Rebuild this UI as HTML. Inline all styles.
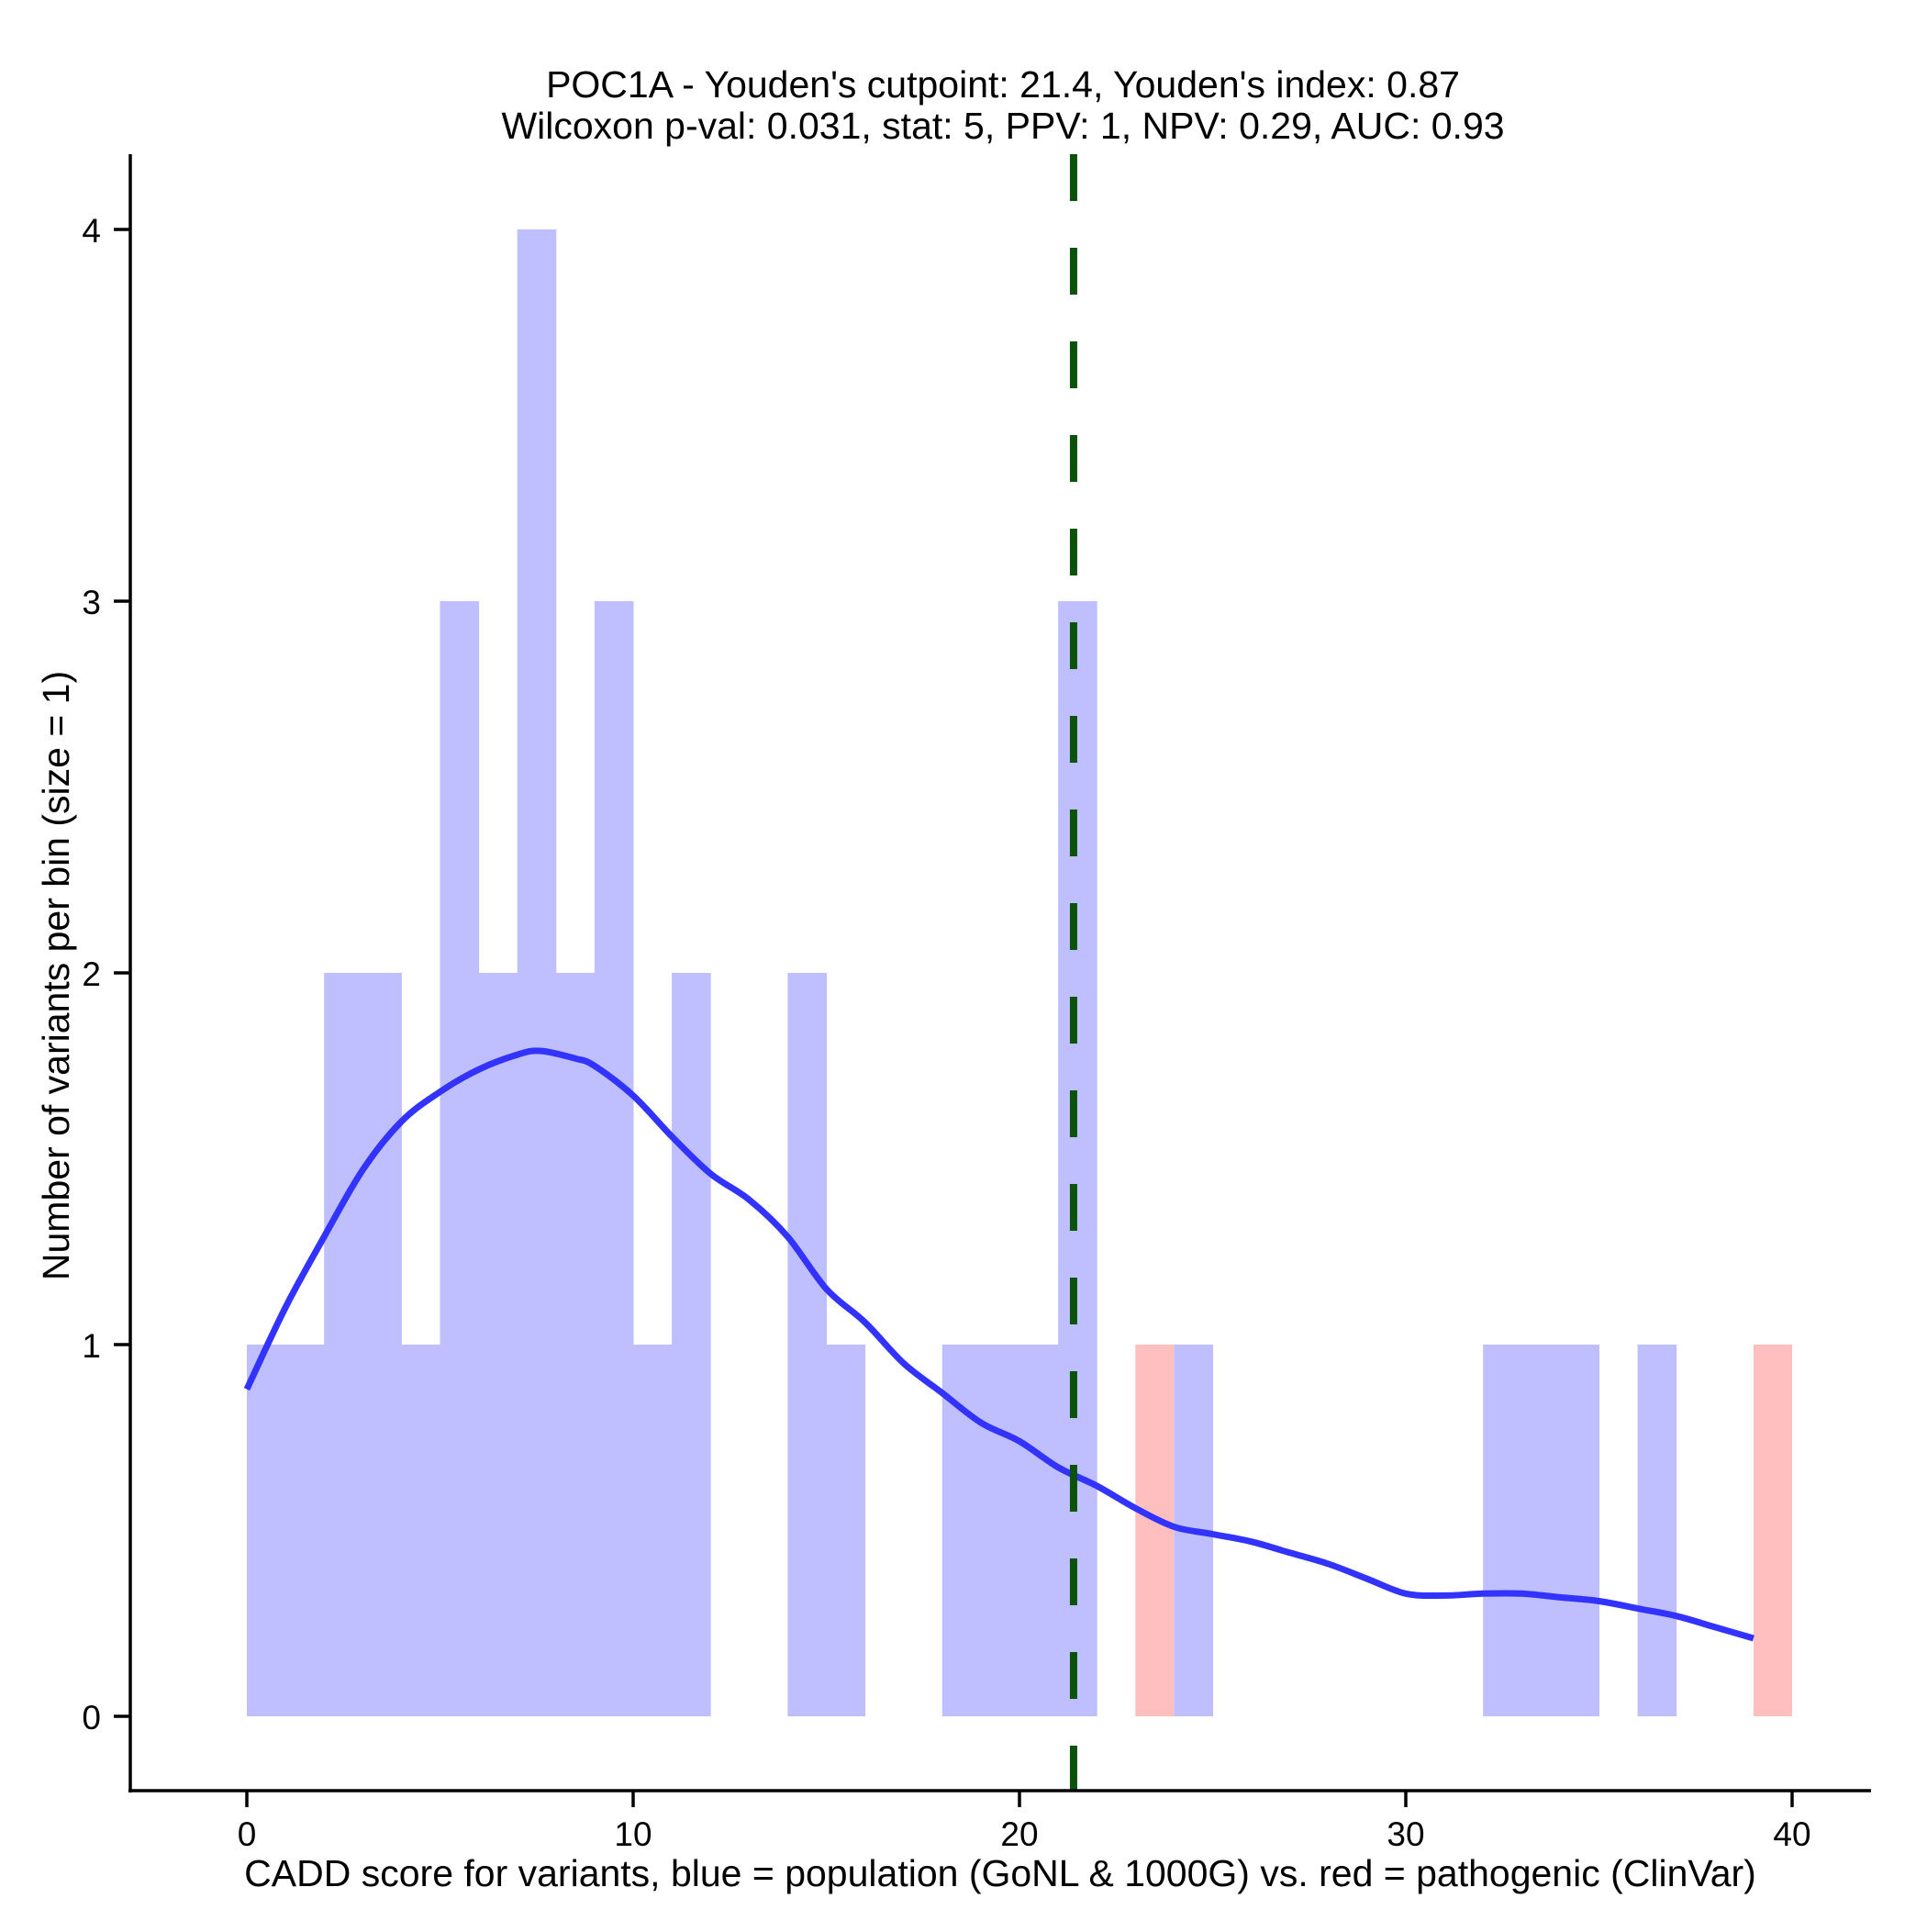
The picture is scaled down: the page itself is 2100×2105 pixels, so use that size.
<!DOCTYPE html>
<html><head><meta charset="utf-8"><style>
html,body{margin:0;padding:0;background:#fff;}
svg text{font-family:"Liberation Sans",Arial,sans-serif;fill:#000;}
</style></head><body>
<svg id="chart" width="2100" height="2100" viewBox="0 0 2100 2100" xmlns="http://www.w3.org/2000/svg">
<text x="1093" y="106" font-size="41" text-anchor="middle">POC1A - Youden's cutpoint: 21.4, Youden's index: 0.87</text>
<text x="1093" y="151" font-size="41" text-anchor="middle">Wilcoxon p-val: 0.031, stat: 5, PPV: 1, NPV: 0.29, AUC: 0.93</text>
<g id="bars"></g>
<g id="curve"></g>
<g id="axes"></g>
<text x="1090" y="2055" font-size="41" text-anchor="middle">CADD score for variants, blue = population (GoNL &amp; 1000G) vs. red = pathogenic (ClinVar)</text>
<text transform="translate(75,1063) rotate(-90)" font-size="41" text-anchor="middle">Number of variants per bin (size = 1)</text>
</svg>
<script>
const blueBinStarts = [0,1,2,3,4,5,6,7,8,9,10,11,14,15,18,19,20,21,24,32,33,34,36];
const blueCounts    = [1,1,2,2,1,3,2,4,2,3,1,2,2,1,1,1,1,3,1,1,1,1,1];
const redBinStarts  = [23,39];
const redCounts     = [1,1];
const curveX = [0,1,2,3,4,5,6,7,7.6,8.5,9,10,11,12,13,14,15,16,17,18,19,20,21,22,23,24,25,26,27,28,29,30,31,32,33,34,35,36,37,38,39];
const curveY = [0.88,1.1,1.29,1.47,1.60,1.68,1.74,1.78,1.79,1.77,1.75,1.67,1.56,1.46,1.39,1.29,1.15,1.06,0.95,0.87,0.79,0.74,0.67,0.62,0.56,0.51,0.49,0.47,0.44,0.41,0.37,0.33,0.325,0.33,0.33,0.32,0.31,0.29,0.27,0.24,0.21];
const cutpoint = 21.4;
const xTicks = [0,10,20,30,40];
const yTicks = [0,1,2,3,4];

const NS='http://www.w3.org/2000/svg';
const xs = v => 269 + v*42.1;
const ys = v => 1870 - v*405;
function mk(tag, attrs, parent){const e=document.createElementNS(NS,tag);for(const k in attrs)e.setAttribute(k,attrs[k]);parent.appendChild(e);return e;}
const bars=document.getElementById('bars');
blueBinStarts.forEach((s,i)=>{
  const r=mk('rect',{x:xs(s),y:ys(blueCounts[i]),width:xs(s+1)-xs(s)+0.5,height:ys(0)-ys(blueCounts[i]),fill:'#bfbfff'},bars);
  
  
});
redBinStarts.forEach((s,i)=>{
  const r=mk('rect',{x:xs(s),y:ys(redCounts[i]),width:xs(s+1)-xs(s),height:ys(0)-ys(redCounts[i]),fill:'#ffbfbf'},bars);
  
  
});
const cg=document.getElementById('curve');
const P=curveX.map((x,i)=>[xs(x),ys(curveY[i])]);
let d='M'+P[0][0].toFixed(1)+','+P[0][1].toFixed(1);
for(let i=0;i<P.length-1;i++){
  const p0=P[Math.max(0,i-1)],p1=P[i],p2=P[i+1],p3=P[Math.min(P.length-1,i+2)];
  const c1=[p1[0]+(p2[0]-p0[0])/6,p1[1]+(p2[1]-p0[1])/6];
  const c2=[p2[0]-(p3[0]-p1[0])/6,p2[1]-(p3[1]-p1[1])/6];
  d+=' C'+c1[0].toFixed(1)+','+c1[1].toFixed(1)+' '+c2[0].toFixed(1)+','+c2[1].toFixed(1)+' '+p2[0].toFixed(1)+','+p2[1].toFixed(1);
}
const p=mk('path',{d:d,fill:'none',stroke:'#3333ff',"stroke-width":7,"stroke-linejoin":'round'},cg);


const cl=mk('line',{x1:xs(cutpoint),x2:xs(cutpoint),y1:168,y2:1952,stroke:'#0b520b',"stroke-width":8,"stroke-dasharray":'51 51'},cg);


const ax=document.getElementById('axes');
const yl=mk('line',{x1:142,x2:142,y1:168,y2:1953,stroke:'#000',"stroke-width":3.5},ax);


const xl=mk('line',{x1:140,x2:2039,y1:1951,y2:1951,stroke:'#000',"stroke-width":3.5},ax);


xTicks.forEach(t=>{
  const l=mk('line',{x1:xs(t),x2:xs(t),y1:1951,y2:1969,stroke:'#000',"stroke-width":3.5},ax);
  
  
  const tx=mk('text',{x:xs(t),y:2011,"font-size":37,"text-anchor":'middle'},ax);
  tx.textContent=t;
  
  
});
yTicks.forEach(t=>{
  const l=mk('line',{x1:124,x2:142,y1:ys(t),y2:ys(t),stroke:'#000',"stroke-width":3.5},ax);
  
  
  const tx=mk('text',{x:110,y:ys(t)+14,"font-size":37,"text-anchor":'end'},ax);
  tx.textContent=t;
  
  
});
</script>
</body></html>
